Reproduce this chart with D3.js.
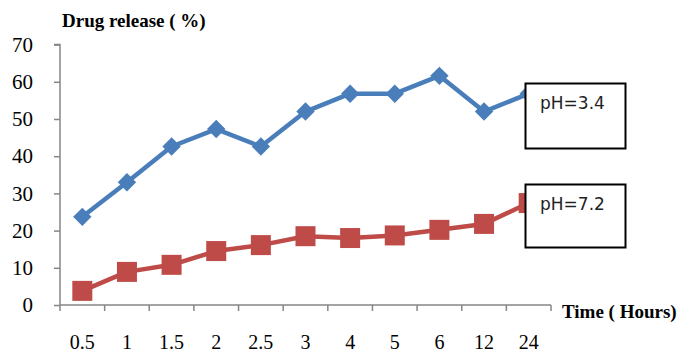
<!DOCTYPE html>
<html>
<head>
<meta charset="utf-8">
<script src="https://cdn.jsdelivr.net/npm/d3@7"></script>
<style>
	body { margin: 0; background: white; }
</style>
</head>
<body>
<div id="container"></div>
<script>
const hours = ['0.5', '1', '1.5', '2', '2.5', '3', '4', '5', '6', '12', '24'];
const ph34 = [23.7, 33, 42.6, 47.3, 42.6, 52, 56.8, 56.8, 61.6, 52, 56.8];
const ph72 = [3.8, 8.9, 10.8, 14.5, 16.1, 18.5, 18, 18.7, 20.2, 21.8, 27.4];
const yTicks = [0, 10, 20, 30, 40, 50, 60, 70];

const W = 683, H = 354;
const BLUE = '#4a7ebb', RED = '#be4b48', AXIS = '#868686';

const svg = d3.select('#container').append('svg')
	.attr('width', W)
	.attr('height', H);

const x = d3.scaleBand().domain(hours).range([60, 551]).padding(0);
const y = d3.scaleLinear().domain([0, 70]).range([305, 44.6]);

// y axis
const yAxis = svg.append('g')
	.attr('transform', 'translate(60,0)')
	.call(d3.axisLeft(y).tickValues(yTicks).tickSize(6).tickPadding(21).tickFormat(d3.format('d')));
yAxis.select('.domain').attr('stroke', AXIS).attr('stroke-width', 1.5).attr('d', `M-6,${y(70)}H0V${y(0)}`);
yAxis.selectAll('.tick line').attr('stroke', AXIS).attr('stroke-width', 1.5);
yAxis.selectAll('.tick text')
	.style('font-family', '"Liberation Serif", serif')
	.style('font-size', '21px')
	.attr('fill', '#000');

// x axis, ticks sit on band edges
const xAxis = svg.append('g').attr('transform', `translate(0,${y(0)})`);
xAxis.append('line')
	.attr('x1', x.range()[0]).attr('x2', x.range()[1])
	.attr('stroke', AXIS).attr('stroke-width', 1.5);
const edges = hours.map(h => x(h)).concat([x.range()[1]]);
xAxis.selectAll('line.tk').data(edges).enter().append('line')
	.attr('class', 'tk')
	.attr('x1', d => d).attr('x2', d => d)
	.attr('y1', 0).attr('y2', 6)
	.attr('stroke', AXIS).attr('stroke-width', 1.5);
xAxis.selectAll('text').data(hours).enter().append('text')
	.attr('x', d => x(d) + x.bandwidth() / 2)
	.attr('y', 43.5)
	.attr('text-anchor', 'middle')
	.style('font-family', '"Liberation Serif", serif')
	.style('font-size', '20px')
	.text(d => d);

// titles
svg.append('text')
	.attr('x', 62).attr('y', 27)
	.style('font-family', '"Liberation Serif", serif')
	.style('font-size', '19px')
	.style('font-weight', 'bold')
	.text('Drug release ( %)');
svg.append('text')
	.attr('x', 562).attr('y', 318)
	.style('font-family', '"Liberation Serif", serif')
	.style('font-size', '19px')
	.style('font-weight', 'bold')
	.text('Time ( Hours)');

const cx = (d, i) => x(hours[i]) + x.bandwidth() / 2;
const line = d3.line().x((d, i) => cx(d, i)).y(d => y(d));

// pH 3.4 series, diamonds
svg.append('path').datum(ph34)
	.attr('d', line)
	.attr('fill', 'none').attr('stroke', BLUE).attr('stroke-width', 4.5)
	.attr('stroke-linejoin', 'round');
svg.selectAll('path.dia').data(ph34).enter().append('path')
	.attr('class', 'dia')
	.attr('transform', (d, i) => `translate(${cx(d, i)},${y(d)}) rotate(45)`)
	.attr('d', 'M-6.5,-6.5H6.5V6.5H-6.5Z')
	.attr('fill', BLUE);

// pH 7.2 series, squares
svg.append('path').datum(ph72)
	.attr('d', line)
	.attr('fill', 'none').attr('stroke', RED).attr('stroke-width', 4.5)
	.attr('stroke-linejoin', 'round');
svg.selectAll('rect.sq').data(ph72).enter().append('rect')
	.attr('class', 'sq')
	.attr('x', (d, i) => cx(d, i) - 10)
	.attr('y', d => y(d) - 10)
	.attr('width', 20).attr('height', 20)
	.attr('fill', RED);

// label boxes
const labels = [
	{text: 'pH=3.4', top: 83.5, bottom: 148.5},
	{text: 'pH=7.2', top: 184.5, bottom: 247.5}
];
const box = svg.selectAll('g.lab').data(labels).enter().append('g').attr('class', 'lab');
box.append('rect')
	.attr('x', 525.5).attr('y', d => d.top)
	.attr('width', 100).attr('height', d => d.bottom - d.top)
	.attr('fill', 'white').attr('stroke', 'black').attr('stroke-width', 2);
box.append('text')
	.attr('x', 540).attr('y', d => d.top + 25)
	.style('font-family', '"DejaVu Sans", sans-serif')
	.style('font-size', '17px')
	.attr('fill', '#222')
	.text(d => d.text);
</script>
</body>
</html>
